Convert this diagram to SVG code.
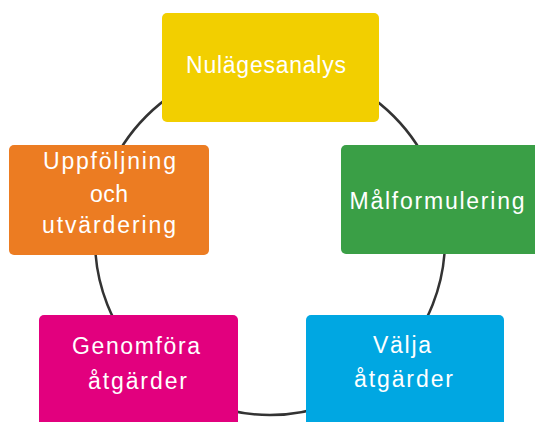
<svg xmlns="http://www.w3.org/2000/svg" width="535" height="422" viewBox="0 0 535 422">
<style>
.box{stroke:none}
.t{font-family:"Liberation Sans",Arial,sans-serif;font-size:23px;fill:#ffffff;text-anchor:middle}
</style>
<rect width="535" height="422" fill="#ffffff"/>
<g id="connectors">
<circle cx="270" cy="240" r="175" fill="none" stroke="#333333" stroke-width="2.5"/>
</g>
<g id="nulagesanalys">
<rect class="box" x="162" y="13" width="217" height="109" rx="5" fill="#F2CF00"/>
<text class="t" x="266" y="73" textLength="160" lengthAdjust="spacing">Nulägesanalys</text>
</g>
<g id="malformulering">
<rect class="box" x="341" y="145" width="200" height="109" rx="5" fill="#3A9F46"/>
<text class="t" x="437" y="209" textLength="175" lengthAdjust="spacing">Målformulering</text>
</g>
<g id="valja">
<rect class="box" x="306" y="315" width="198" height="115" rx="5" fill="#00A7E2"/>
<text class="t" x="402" y="353" textLength="58" lengthAdjust="spacing">Välja</text>
<text class="t" x="403.5" y="387" textLength="99" lengthAdjust="spacing">åtgärder</text>
</g>
<g id="genomfora">
<rect class="box" x="39" y="315" width="199" height="115" rx="5" fill="#E2007E"/>
<text class="t" x="136" y="354" textLength="128" lengthAdjust="spacing">Genomföra</text>
<text class="t" x="137.5" y="389" textLength="99" lengthAdjust="spacing">åtgärder</text>
</g>
<g id="uppfoljning">
<rect class="box" x="9" y="145" width="200" height="110" rx="5" fill="#EC7C22"/>
<text class="t" x="109.5" y="169" textLength="133" lengthAdjust="spacing">Uppföljning</text>
<text class="t" x="109" y="202" textLength="38" lengthAdjust="spacing">och</text>
<text class="t" x="109" y="233" textLength="134" lengthAdjust="spacing">utvärdering</text>
</g>
</svg>
